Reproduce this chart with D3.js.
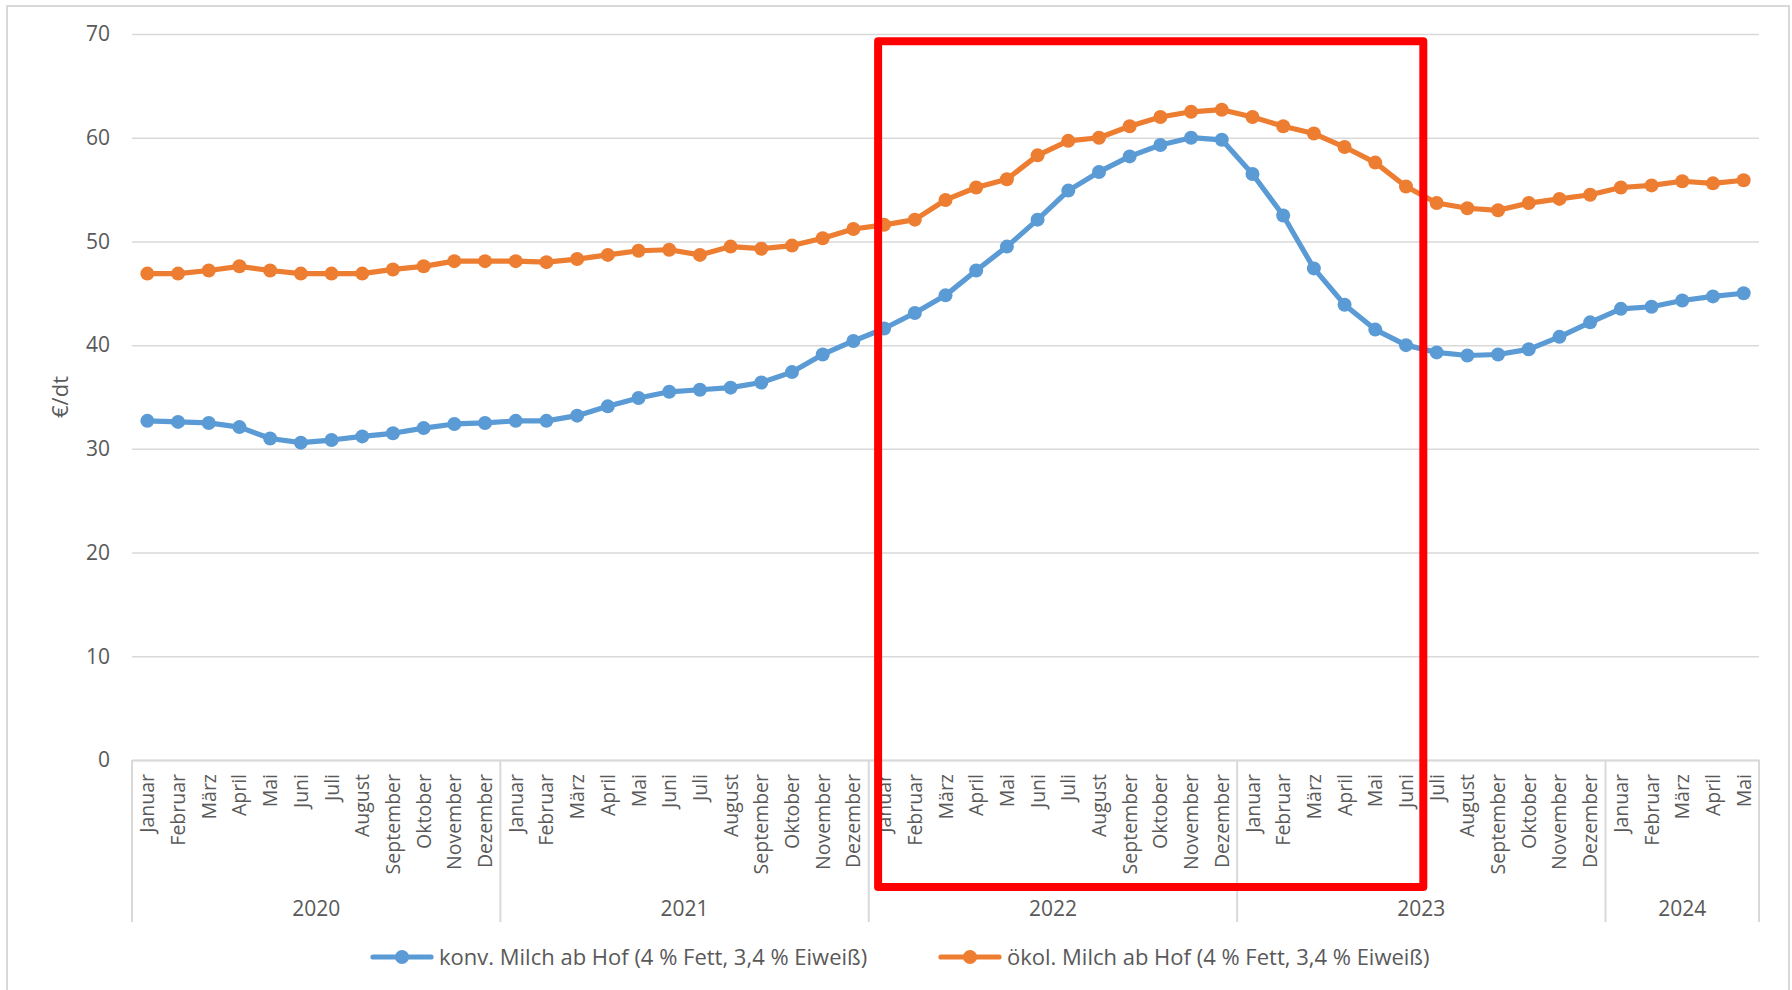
<!DOCTYPE html>
<html>
<head>
<meta charset="utf-8">
<script src="https://cdn.jsdelivr.net/npm/d3@7"></script>
<style>
  body { margin: 0; background: #fff; }
  svg text { font-family: "Open Sans", sans-serif; fill: #595959; }
</style>
</head>
<body>
<div id="chart"></div>
<script>
var years = ["2020", "2021", "2022", "2023", "2024"];
var monthsPerYear = [12, 12, 12, 12, 5];
var monthNames = ["Januar", "Februar", "März", "April", "Mai", "Juni", "Juli",
    "August", "September", "Oktober", "November", "Dezember"];

var konv = [
    32.7, 32.6, 32.5, 32.1, 31.0, 30.6, 30.85, 31.2, 31.5, 32.0, 32.4, 32.5,
    32.7, 32.7, 33.2, 34.1, 34.9, 35.5, 35.7, 35.9, 36.4, 37.4, 39.1, 40.4,
    41.6, 43.1, 44.8, 47.2, 49.5, 52.1, 54.9, 56.7, 58.2, 59.3, 60.0, 59.8,
    56.5, 52.5, 47.4, 43.9, 41.5, 40.0, 39.3, 39.0, 39.1, 39.6, 40.8, 42.2,
    43.5, 43.7, 44.3, 44.7, 45.0
];
var oekol = [
    46.9, 46.9, 47.2, 47.6, 47.2, 46.9, 46.9, 46.9, 47.3, 47.6, 48.1, 48.1,
    48.1, 48.0, 48.3, 48.7, 49.1, 49.2, 48.7, 49.5, 49.3, 49.6, 50.3, 51.2,
    51.6, 52.1, 54.0, 55.2, 56.0, 58.3, 59.7, 60.0, 61.1, 62.0, 62.5, 62.7,
    62.0, 61.1, 60.4, 59.1, 57.6, 55.3, 53.7, 53.2, 53.0, 53.7, 54.1, 54.5,
    55.2, 55.4, 55.8, 55.6, 55.9
];
var yTicks = [0, 10, 20, 30, 40, 50, 60, 70];

var seriesNames = [
    "konv. Milch ab Hof (4 % Fett, 3,4 % Eiweiß)",
    "ökol. Milch ab Hof (4 % Fett, 3,4 % Eiweiß)"
];
var colors = ["#5B9BD5", "#ED7D31"];

// highlighted period: Januar 2022 .. Juni 2023
var highlightFrom = 24, highlightTo = 41;

// categories
var cats = [];
years.forEach((yr, i) => {
    for (var m = 0; m < monthsPerYear[i]; m++) cats.push({ year: yr, month: monthNames[m] });
});

var width = 1792, height = 990;
var plotLeft = 132, plotRight = 1759, plotTop = 34, plotBottom = 760;

var svg = d3.select("#chart").append("svg")
    .attr("width", width)
    .attr("height", height);

// chart border
svg.append("rect")
    .attr("x", 7).attr("y", 6)
    .attr("width", 1782).attr("height", 1000)
    .attr("fill", "none")
    .attr("stroke", "#D9D9D9")
    .attr("stroke-width", 2);

var x = d3.scaleBand()
    .domain(d3.range(cats.length))
    .range([plotLeft, plotRight]);

var y = d3.scaleLinear()
    .domain([0, 70])
    .range([plotBottom, plotTop]);

// gridlines
svg.append("g")
    .attr("transform", `translate(${plotLeft},0)`)
    .call(d3.axisLeft(y).tickValues(yTicks).tickSize(-(plotRight - plotLeft)).tickFormat(""))
    .call(g => g.select(".domain").remove())
    .call(g => g.selectAll("line").attr("stroke", "#D9D9D9").attr("stroke-width", 1.5));

// y labels
svg.append("g")
    .attr("transform", `translate(${plotLeft},0)`)
    .call(d3.axisLeft(y).tickValues(yTicks).tickSize(0).tickPadding(22))
    .call(g => g.select(".domain").remove())
    .call(g => g.selectAll("text")
        .attr("font-size", 21)
        .attr("font-family", null)
        .style("fill", "#595959"));

svg.append("text")
    .attr("transform", `translate(68,${(plotTop + plotBottom) / 2}) rotate(-90)`)
    .attr("text-anchor", "middle")
    .attr("font-size", 22)
    .text("€/dt");

// x axis with month labels
svg.append("g")
    .attr("transform", `translate(0,${plotBottom})`)
    .call(d3.axisBottom(x).tickSize(0).tickFormat(i => cats[i].month))
    .call(g => g.select(".domain").attr("stroke", "#D9D9D9").attr("stroke-width", 2))
    .call(g => g.selectAll("text")
        .attr("font-size", 19.5)
        .attr("font-family", null)
        .style("fill", "#595959")
        .attr("text-anchor", "end")
        .attr("transform", "rotate(-90)")
        .attr("x", -14)
        .attr("y", 0)
        .attr("dy", "0.36em"));

// year groups
var bounds = [0];
monthsPerYear.forEach(n => bounds.push(bounds[bounds.length - 1] + n));
var bx = d => d < cats.length ? x(d) : plotRight;

svg.append("g")
    .selectAll("line")
    .data(bounds)
    .join("line")
    .attr("x1", bx)
    .attr("x2", bx)
    .attr("y1", plotBottom)
    .attr("y2", plotBottom + 162)
    .attr("stroke", "#D9D9D9")
    .attr("stroke-width", 2);

svg.append("g")
    .selectAll("text")
    .data(years)
    .join("text")
    .attr("x", (d, i) => (bx(bounds[i]) + bx(bounds[i + 1])) / 2)
    .attr("y", plotBottom + 156)
    .attr("text-anchor", "middle")
    .attr("font-size", 21)
    .text(d => d);

// series
var series = [konv, oekol];
var line = d3.line()
    .x((d, i) => x(i) + x.bandwidth() / 2)
    .y(d => y(d));

series.forEach((vals, k) => {
    var g = svg.append("g");
    g.append("path")
        .datum(vals)
        .attr("fill", "none")
        .attr("stroke", colors[k])
        .attr("stroke-width", 5.2)
        .attr("stroke-linejoin", "round")
        .attr("d", line);
    g.selectAll("circle")
        .data(vals)
        .join("circle")
        .attr("cx", (d, i) => x(i) + x.bandwidth() / 2)
        .attr("cy", d => y(d))
        .attr("r", 7)
        .attr("fill", colors[k]);
});

// red highlight box
var hx0 = x(highlightFrom) + x.bandwidth() / 2 - 6;
var hx1 = x(highlightTo) + x.step() + 2;
svg.append("rect")
    .attr("x", hx0)
    .attr("y", y(69.3))
    .attr("width", hx1 - hx0)
    .attr("height", plotBottom + 127 - y(69.3))
    .attr("fill", "none")
    .attr("stroke", "#FF0000")
    .attr("stroke-width", 8)
    .attr("stroke-linejoin", "round");

// legend
var legendX = [373, 941];
var legend = svg.append("g")
    .selectAll("g")
    .data(seriesNames)
    .join("g")
    .attr("transform", (d, i) => `translate(${legendX[i]},957)`);

legend.append("line")
    .attr("x1", 0).attr("x2", 58)
    .attr("stroke", (d, i) => colors[i])
    .attr("stroke-width", 5.2)
    .attr("stroke-linecap", "round");
legend.append("circle")
    .attr("cx", 29)
    .attr("r", 7)
    .attr("fill", (d, i) => colors[i]);
legend.append("text")
    .attr("x", 66)
    .attr("dy", "0.35em")
    .attr("font-size", 22)
    .text(d => d);
</script>
</body>
</html>
